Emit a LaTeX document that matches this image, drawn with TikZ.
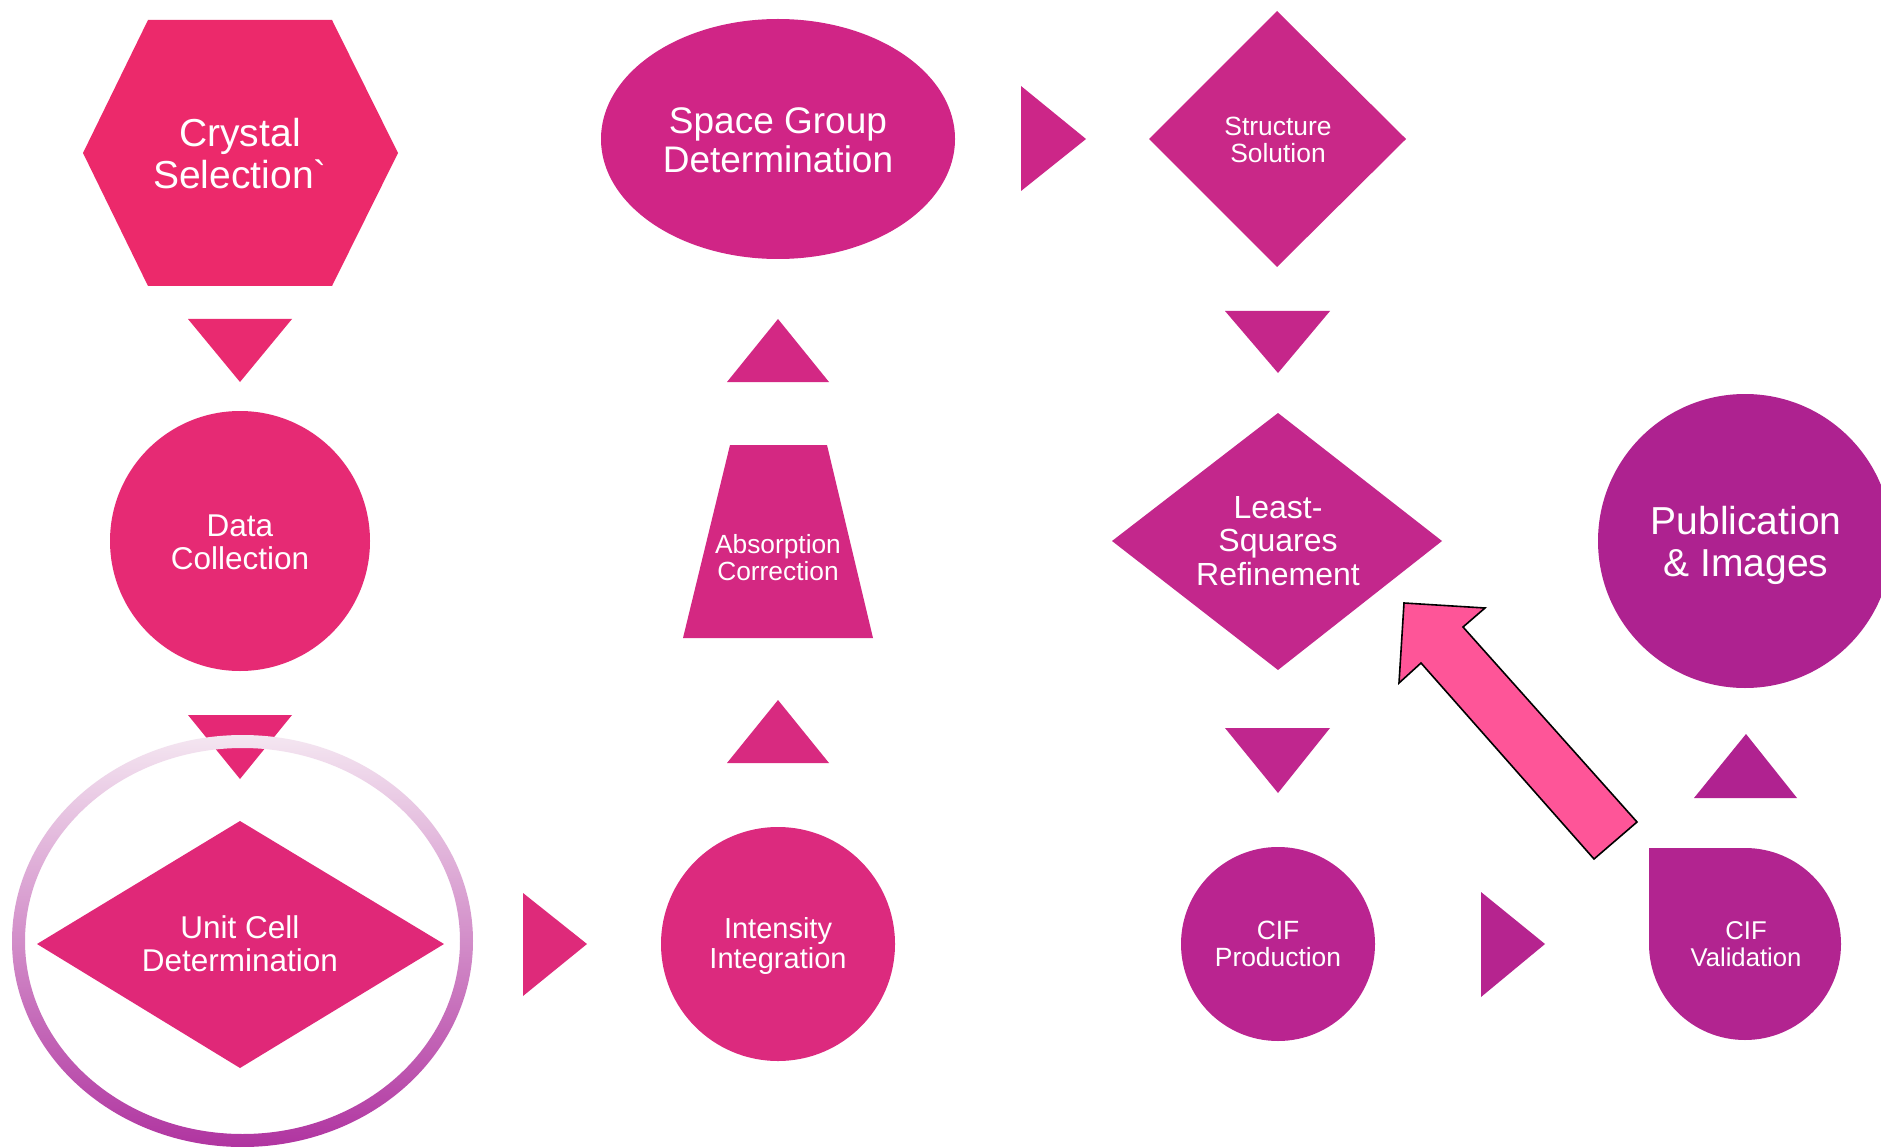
\documentclass[tikz,border=0pt]{standalone}
\usepackage{fontspec}
\setmainfont{Liberation Sans}[Ligatures=TeXOff]
\begin{document}
\begin{tikzpicture}[x=1pt,y=-1pt]
% palette: pink fading into purple along the workflow
\definecolor{cCrystal}{HTML}{EC296B}
\definecolor{cData}{HTML}{E62A74}
\definecolor{cUnit}{HTML}{E02878}
\definecolor{cInt}{HTML}{DC2A7E}
\definecolor{cAbs}{HTML}{D42882}
\definecolor{cSpace}{HTML}{D02586}
\definecolor{cStruct}{HTML}{C92888}
\definecolor{cLSQ}{HTML}{C3278C}
\definecolor{cCifP}{HTML}{BA2490}
\definecolor{cCifV}{HTML}{B22490}
\definecolor{cPub}{HTML}{AE2290}
\definecolor{tA}{HTML}{E92A70}
\definecolor{tB}{HTML}{E52875}
\definecolor{tC}{HTML}{DE2A7A}
\definecolor{tD}{HTML}{D82A80}
\definecolor{tE}{HTML}{D32884}
\definecolor{tF}{HTML}{CC2688}
\definecolor{tG}{HTML}{C5268A}
\definecolor{tH}{HTML}{C0268E}
\definecolor{tI}{HTML}{B6248F}
\definecolor{tJ}{HTML}{B02290}
\definecolor{ringTop}{HTML}{F4E6F1}
\definecolor{ringBot}{HTML}{B034A0}
\definecolor{blockPink}{HTML}{FE5598}
\tikzset{
  lbl/.style={text=white, align=center, inner sep=0pt},
}
\clip (0,0) rectangle (1881,1147);
\fill[white] (0,0) rectangle (1881,1147);

% ---- stage shapes ----
% Crystal Selection (hexagon)
\fill[cCrystal] (148,20) -- (332,20) -- (398,153) -- (332,286) -- (148,286) -- (83,153) -- cycle;
% Data Collection (circle)
\fill[cData] (240,541) circle[radius=130];
% Unit Cell Determination (diamond)
\fill[cUnit] (240,821) -- (444,944) -- (240,1068) -- (37,944) -- cycle;
% Intensity Integration (circle)
\fill[cInt] (778,944) circle[radius=117];
% Absorption Correction (trapezium)
\fill[cAbs] (730,445) -- (827,445) -- (873,638) -- (683,638) -- cycle;
% Space Group Determination (ellipse)
\fill[cSpace] (778,139) ellipse[x radius=177, y radius=120];
% Structure Solution (diamond)
\fill[cStruct] (1277,11) -- (1406,139) -- (1277,267) -- (1149,139) -- cycle;
% Least-Squares Refinement (diamond)
\fill[cLSQ] (1278,413) -- (1442,541) -- (1278,670) -- (1112,541) -- cycle;
% CIF Production (circle)
\fill[cCifP] (1278,944) circle[radius=97];
% CIF Validation (drop with square corner)
\fill[cCifV] (1745,848) arc[start angle=-90, end angle=180, radius=96] -- (1649,848) -- cycle;
% Publication & Images (circle)
\fill[cPub] (1745,541) circle[radius=147];

% ---- triangular flow markers ----
\fill[tA] (188,319) -- (292,319) -- (240,382) -- cycle;
\fill[tB] (188,715) -- (292,715) -- (240,779) -- cycle;
\fill[tC] (523,893) -- (587,944) -- (523,996) -- cycle;
\fill[tD] (727,763) -- (829,763) -- (778,700) -- cycle;
\fill[tE] (727,382) -- (829,382) -- (778,319) -- cycle;
\fill[tF] (1021,86) -- (1086,139) -- (1021,191) -- cycle;
\fill[tG] (1225,311) -- (1330,311) -- (1278,373) -- cycle;
\fill[tH] (1225,728) -- (1330,728) -- (1278,793) -- cycle;
\fill[tI] (1481,892) -- (1545,944) -- (1481,997) -- cycle;
\fill[tJ] (1694,798) -- (1797,798) -- (1746,734) -- cycle;

% ---- highlight ring around the unit cell step ----
\path[top color=ringTop, bottom color=ringBot, even odd rule]
  (242.5,941) ellipse[x radius=230.5, y radius=206]
  (242.5,941) ellipse[x radius=217.5, y radius=193];

% ---- feedback block arrow ----
\draw[fill=blockPink, line width=1.6, line join=miter]
  (1404,603) -- (1485,608) -- (1463,627) -- (1637,822) -- (1594,859)
  -- (1421,663) -- (1399,683) -- cycle;

% ---- labels ----
\node[lbl, font=\fontsize{39}{42}\selectfont] (crystal) at (240,154) {Crystal\\Selection`};
\node[lbl, font=\fontsize{31.5}{33}\selectfont] (data) at (240,542) {Data\\Collection};
\node[lbl, font=\fontsize{31.5}{33}\selectfont] (unit) at (240,944) {Unit Cell\\Determination};
\node[lbl, font=\fontsize{29}{30}\selectfont] (intensity) at (778,946) {Intensity\\Integration};
\node[lbl, font=\fontsize{26.3}{27}\selectfont] (absorption) at (778,558) {Absorption\\Correction};
\node[lbl, font=\fontsize{37}{39}\selectfont] (space) at (778,140) {Space Group\\Determination};
\node[lbl, font=\fontsize{26.4}{27}\selectfont] (structure) at (1278,140) {Structure\\Solution};
\node[lbl, font=\fontsize{32}{33.5}\selectfont] (lsq) at (1278,541) {Least-\\Squares\\Refinement};
\node[lbl, font=\fontsize{26.4}{27}\selectfont] (cifp) at (1278,944) {CIF\\Production};
\node[lbl, font=\fontsize{25.7}{27}\selectfont] (cifv) at (1746,944) {CIF\\Validation};
\node[lbl, font=\fontsize{39}{42}\selectfont] (pub) at (1746,545) {Publication\\\& Images};
\end{tikzpicture}
\end{document}
